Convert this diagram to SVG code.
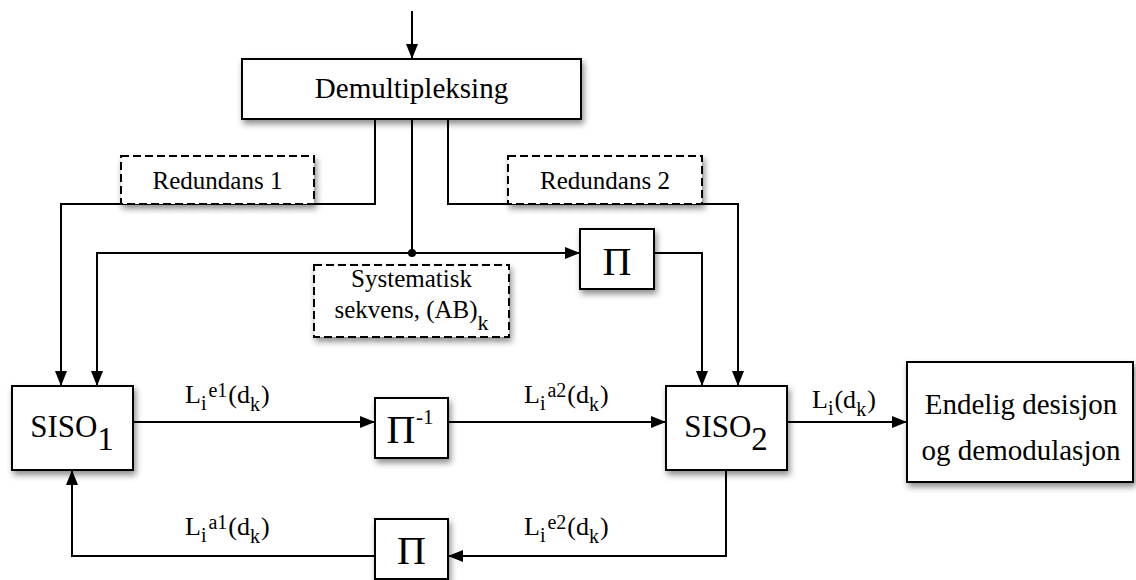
<svg xmlns="http://www.w3.org/2000/svg" width="1136" height="580" viewBox="0 0 1136 580" font-family="'Liberation Serif', 'Times New Roman', serif">
<defs>
<style>
.box{fill:#fff;stroke:#000;stroke-width:2;filter:url(#sh)}
.dash{fill:#fff;stroke:#000;stroke-width:2;stroke-dasharray:8 4;filter:url(#sh)}
.ln{fill:none;stroke:#000;stroke-width:2}
.arr{marker-end:url(#ah)}
.big{font-size:29px}
.med{font-size:25px}
.lab{font-size:26px}
.sm{font-size:20px}
.pi{font-size:40px}
</style>
<marker id="ah" markerUnits="userSpaceOnUse" markerWidth="15" markerHeight="12" refX="15" refY="6" orient="auto" viewBox="0 0 15 12"><path d="M0,0 L15,6 L0,12 z" fill="#000"/></marker>
<filter id="sh" x="-20%" y="-20%" width="150%" height="160%"><feDropShadow dx="2" dy="4" stdDeviation="3" flood-color="#000" flood-opacity="0.45"/></filter>
</defs>
<rect width="1136" height="580" fill="#fff"/>
<g id="connectors">
<path class="ln arr" d="M412,11 V59"/>
<path class="ln arr" d="M375,119 V204 H61 V386"/>
<path class="ln arr" d="M448,119 V204 H738 V386"/>
<path class="ln" d="M412,119 V253"/>
<path class="ln arr" d="M412,253 H97 V386"/>
<path class="ln arr" d="M412,253 H580"/>
<circle cx="412" cy="253" r="4" fill="#000"/>
<path class="ln arr" d="M654,253 H702 V386"/>
<path class="ln arr" d="M133,422 H375"/>
<path class="ln arr" d="M448,422 H666"/>
<path class="ln arr" d="M787,422 H907"/>
<path class="ln arr" d="M726,470 V556 H448"/>
<path class="ln arr" d="M375,556 H72 V470"/>
<text class="lab" x="185" y="403">L<tspan class="sm" dy="7">i</tspan><tspan class="sm" dy="-13" dx="2">e1</tspan><tspan dy="6" dx="1">(d</tspan><tspan class="sm" dy="8">k</tspan><tspan dy="-8" dx="1">)</tspan></text>
<text class="lab" x="524" y="403">L<tspan class="sm" dy="7">i</tspan><tspan class="sm" dy="-13" dx="2">a2</tspan><tspan dy="6" dx="1">(d</tspan><tspan class="sm" dy="8">k</tspan><tspan dy="-8" dx="1">)</tspan></text>
<text class="lab" x="185" y="535">L<tspan class="sm" dy="7">i</tspan><tspan class="sm" dy="-13" dx="2">a1</tspan><tspan dy="6" dx="1">(d</tspan><tspan class="sm" dy="8">k</tspan><tspan dy="-8" dx="1">)</tspan></text>
<text class="lab" x="524" y="535">L<tspan class="sm" dy="7">i</tspan><tspan class="sm" dy="-13" dx="2">e2</tspan><tspan dy="6" dx="1">(d</tspan><tspan class="sm" dy="8">k</tspan><tspan dy="-8" dx="1">)</tspan></text>
<text class="lab" x="812" y="408">L<tspan class="sm" dy="7">i</tspan><tspan dy="-7" dx="1">(d</tspan><tspan class="sm" dy="8">k</tspan><tspan dy="-8" dx="1">)</tspan></text>
</g>
<g id="demux"><rect class="box" x="242" y="59" width="339" height="60"/><text class="big" x="411.5" y="98" text-anchor="middle">Demultipleksing</text></g>
<g id="red1"><rect class="dash" x="121" y="156" width="193" height="48"/><text class="med" x="217.5" y="188.5" text-anchor="middle">Redundans 1</text></g>
<g id="red2"><rect class="dash" x="508" y="156" width="194" height="48"/><text class="med" x="605" y="188.5" text-anchor="middle">Redundans 2</text></g>
<g id="sys"><rect class="dash" x="314" y="265" width="195" height="72"/><text class="med" x="411.5" y="287" text-anchor="middle">Systematisk</text><text class="med" x="411.5" y="318" text-anchor="middle">sekvens, (AB)<tspan font-size="22" dy="12">k</tspan></text></g>
<g id="pi1"><rect class="box" x="580" y="229" width="74" height="60"/><text class="pi" x="617" y="275" text-anchor="middle">Π</text></g>
<g id="siso1"><rect class="box" x="12" y="386" width="121" height="84"/><text x="72" y="437" font-size="31" text-anchor="middle">SISO<tspan font-size="33" dy="13">1</tspan></text></g>
<g id="piinv"><rect class="box" x="375" y="398" width="73" height="60"/><text class="pi" x="401" y="443" text-anchor="middle">Π</text><text x="416" y="424" font-size="21">-1</text></g>
<g id="siso2"><rect class="box" x="666" y="386" width="121" height="84"/><text x="726" y="437" font-size="31" text-anchor="middle">SISO<tspan font-size="33" dy="13">2</tspan></text></g>
<g id="pi2"><rect class="box" x="375" y="519" width="73" height="60"/><text class="pi" x="411.5" y="564" text-anchor="middle">Π</text></g>
<g id="final"><rect class="box" x="907" y="362" width="226" height="120"/><text class="big" x="1021" y="414" text-anchor="middle">Endelig desisjon</text><text class="big" x="1021" y="460" text-anchor="middle">og demodulasjon</text></g>
</svg>
